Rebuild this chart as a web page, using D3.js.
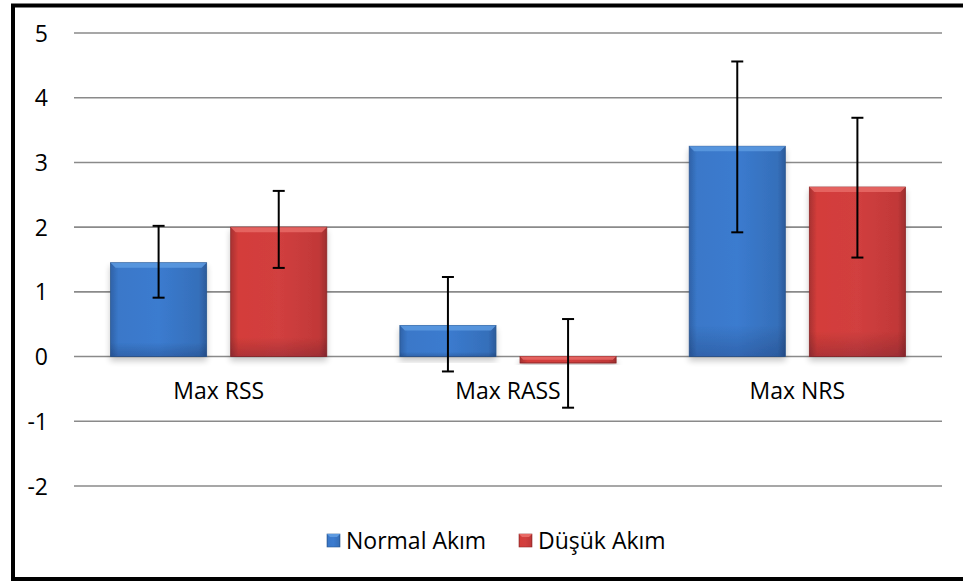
<!DOCTYPE html>
<html><head><meta charset="utf-8">
<script src="https://cdn.jsdelivr.net/npm/d3@7"></script>
<style>
html,body{margin:0;padding:0;background:#fff;overflow:hidden;}
svg{display:block;}
text{font-family:"Open Sans","Noto Sans",sans-serif;fill:#000;}
</style></head>
<body>
<svg id="c" width="963" height="582"></svg>
<script>
const categories = ["Max RSS", "Max RASS", "Max NRS"];
const seriesNames = ["Normal Akım", "Düşük Akım"];
const normalValues = [1.45, 0.48, 3.25];
const normalErrLow = [0.91, -0.23, 1.92];
const normalErrHigh = [2.02, 1.23, 4.56];
const dusukValues = [2.0, -0.1, 2.62];
const dusukErrLow = [1.37, -0.79, 1.53];
const dusukErrHigh = [2.56, 0.58, 3.69];
const yTicks = [-2, -1, 0, 1, 2, 3, 4, 5];

const seriesData = [
  {name: seriesNames[0], values: normalValues, lo: normalErrLow, hi: normalErrHigh, key: "blue"},
  {name: seriesNames[1], values: dusukValues, lo: dusukErrLow, hi: dusukErrHigh, key: "red"}
];

const svg = d3.select("#c");
const defs = svg.append("defs");

function grad(id, stops, x2, y2) {
  const g = defs.append("linearGradient").attr("id", id)
    .attr("x1", 0).attr("y1", 0).attr("x2", x2).attr("y2", y2);
  stops.forEach(s => g.append("stop").attr("offset", s[0]).attr("stop-color", s[1]));
}
grad("blueH", [[0, "#2f62a8"], [0.08, "#3a78c9"], [0.5, "#3b7bcf"], [0.92, "#356fba"], [1, "#2b5a9a"]], 1, 0);
grad("redH", [[0, "#a83232"], [0.08, "#d43d3a"], [0.5, "#d13f3f"], [0.92, "#c13838"], [1, "#9d2d2d"]], 1, 0);
grad("shadeV", [[0, "rgba(255,255,255,0)"], [0.85, "rgba(0,0,0,0)"], [1, "rgba(0,0,40,0.18)"]], 0, 1);
const filt = defs.append("filter").attr("id", "sh").attr("x", "-20%").attr("y", "-20%").attr("width", "140%").attr("height", "140%");
filt.append("feGaussianBlur").attr("in", "SourceAlpha").attr("stdDeviation", 3);
filt.append("feOffset").attr("dx", 0).attr("dy", 4).attr("result", "b");
filt.append("feComponentTransfer").append("feFuncA").attr("type", "linear").attr("slope", 0.22);
const fm = filt.append("feMerge");
fm.append("feMergeNode");
fm.append("feMergeNode").attr("in", "SourceGraphic");

const colors = {blue: {fill: "url(#blueH)", top: "#5d9ae0", edge: "#2a5790"},
                red: {fill: "url(#redH)", top: "#e86a66", edge: "#8f2828"}};

// Frame (left, top, bottom edges visible)
svg.append("rect").attr("x", 13).attr("y", 5.5).attr("width", 1100).attr("height", 573.5)
  .attr("fill", "none").attr("stroke", "#000").attr("stroke-width", 4);

const y = d3.scaleLinear().domain([-2, 5]).range([486, 33]);
const x0 = d3.scaleBand().domain(categories).range([74, 942]).paddingInner(0).paddingOuter(0);
const bw = x0.bandwidth();
const x1 = d3.scaleBand().domain(seriesNames).range([bw * 0.1263, bw * 0.8737]).paddingInner(0.2);

// Gridlines
svg.append("g").selectAll("line").data(yTicks).join("line")
  .attr("x1", 74).attr("x2", 942)
  .attr("y1", d => y(d)).attr("y2", d => y(d))
  .attr("stroke", "#8a8a8a").attr("stroke-width", 1.6);

// Y tick labels
svg.append("g").selectAll("text").data(yTicks).join("text")
  .attr("x", 48).attr("y", d => y(d) + 8.5)
  .attr("text-anchor", "end").attr("font-size", 23)
  .text(d => String(d));

// Bars
const groups = svg.append("g").selectAll("g").data(seriesData).join("g");
groups.each(function(s) {
  const g = d3.select(this);
  const c = colors[s.key];
  categories.forEach((cat, i) => {
    const v = s.values[i];
    const bx = x0(cat) + x1(s.name);
    const w = x1.bandwidth();
    const top = Math.min(y(v), y(0));
    const h = Math.abs(y(v) - y(0));
    const bg = g.append("g").attr("filter", "url(#sh)");
    bg.append("rect").attr("x", bx).attr("y", top).attr("width", w).attr("height", h)
      .attr("fill", c.fill).attr("stroke", c.edge).attr("stroke-width", 0.8);
    bg.append("rect").attr("x", bx).attr("y", top).attr("width", w).attr("height", h)
      .attr("fill", "url(#shadeV)");
    const bev = Math.min(5, h / 2);
    bg.append("path")
      .attr("d", `M${bx},${top} L${bx + w},${top} L${bx + w - bev},${top + bev} L${bx + bev},${top + bev} Z`)
      .attr("fill", c.top).attr("opacity", 0.85);
  });
});

// Error bars
const eb = svg.append("g").attr("stroke", "#000").attr("stroke-width", 2);
seriesData.forEach(s => {
  categories.forEach((cat, i) => {
    const cx = x0(cat) + x1(s.name) + x1.bandwidth() / 2;
    eb.append("line").attr("x1", cx).attr("x2", cx).attr("y1", y(s.hi[i])).attr("y2", y(s.lo[i]));
    [s.hi[i], s.lo[i]].forEach(v => {
      eb.append("line").attr("x1", cx - 6).attr("x2", cx + 6).attr("y1", y(v)).attr("y2", y(v));
    });
  });
});

// Category labels
svg.append("g").selectAll("text").data(categories).join("text")
  .attr("x", d => x0(d) + bw / 2).attr("y", 399)
  .attr("text-anchor", "middle").attr("font-size", 23)
  .text(d => d);

// Legend
const legX = [327, 519];
const leg = svg.append("g");
seriesData.forEach((s, i) => {
  const c = colors[s.key];
  leg.append("rect").attr("x", legX[i]).attr("y", 534).attr("width", 13).attr("height", 13)
    .attr("fill", c.fill).attr("stroke", c.edge).attr("stroke-width", 0.6);
  leg.append("path").attr("d", `M${legX[i]},534 h13 l-3,3 h-7 z`).attr("fill", c.top);
  leg.append("text").attr("x", legX[i] + 19).attr("y", 548.5).attr("font-size", 23).text(s.name);
});
</script>
</body></html>
